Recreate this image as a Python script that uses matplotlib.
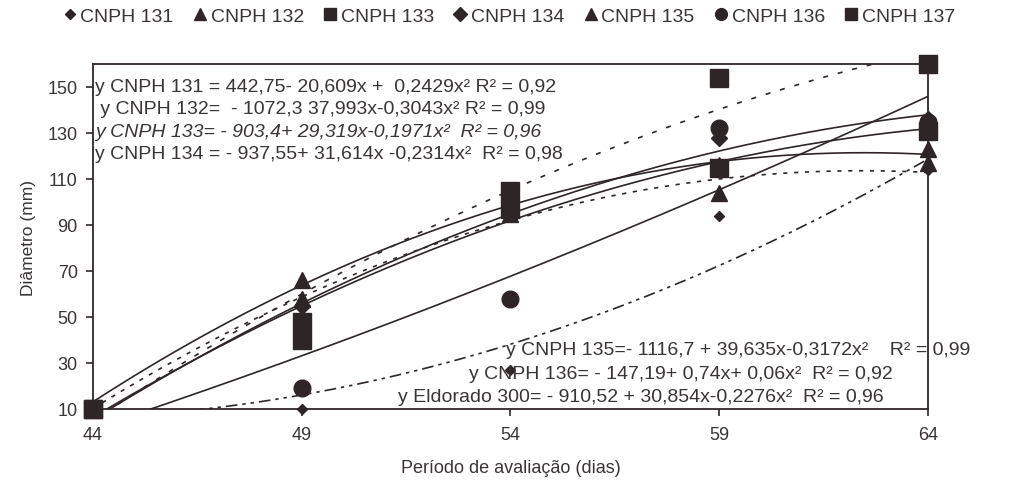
import matplotlib
matplotlib.use("Agg")
import matplotlib.pyplot as plt
from matplotlib.lines import Line2D
import numpy as np

plt.rcParams["font.family"] = "Liberation Sans"

INK = "#2e2626"
TXT = "#3a3535"

# evaluation days
days = [44, 49, 54, 59, 64]

cnph131 = [10, 10, 27, 94, 114]
cnph132 = [10, 58, 95, 104, 117]
cnph133 = [10, 40, 105, 154, 160]
cnph134 = [10, 55, 100, 128, 136]
cnph135 = [10, 66, 100, 116, 123]
cnph136 = [10, 19, 58, 132, 135]
cnph137 = [10, 48, 97, 115, 131]

# printed trendline coefficients (c0, c1, c2)
coef131 = [442.75, -20.609, 0.2429]
coef132 = [-1072.3, 37.993, -0.3043]
coef133 = [-903.4, 29.319, -0.1971]
coef134 = [-937.55, 31.614, -0.2314]
coef135 = [-1116.7, 39.635, -0.3172]
coef136 = [-147.19, 0.74, 0.06]
coef137 = [-910.52, 30.854, -0.2276]

series = [
    ("CNPH 131", cnph131, coef131, "D", 5, (0, (7, 3, 2, 3, 2, 3))),
    ("CNPH 132", cnph132, coef132, "^", 12, (0, (2.5, 4))),
    ("CNPH 133", cnph133, coef133, "s", 13, (0, (3, 6))),
    ("CNPH 134", cnph134, coef134, "D", 8, "-"),
    ("CNPH 135", cnph135, coef135, "^", 12, "-"),
    ("CNPH 136", cnph136, coef136, "o", 12, "-"),
    ("CNPH 137", cnph137, coef137, "s", 13, "-"),
]

fig = plt.figure(figsize=(10.18, 4.85), dpi=100)
ax = fig.add_axes([93 / 1018, 1 - 410 / 485, (928 - 93) / 1018, (410 - 65) / 485])

# trend lines from the printed regression equations
xs = np.linspace(days[0], days[-1], 200)
for name, vals, coef, mk, ms, ls in series:
    ax.plot(xs, np.polyval(coef[::-1], xs), color=INK, lw=1.2, ls=ls, zorder=2)

for name, vals, coef, mk, ms, ls in series:
    ax.plot(days, vals, ls="none", marker=mk, ms=ms, color=INK, mec=INK,
            clip_on=False, zorder=3)

ax.set_xlim(44, 64)
ax.set_ylim(10, 160)
ax.set_xticks(days)
ax.set_yticks(np.arange(10, 151, 20))
for s in ax.spines.values():
    s.set_color(INK)
    s.set_linewidth(1.3)
ax.tick_params(direction="out", length=5, width=1.2, color=INK,
               labelsize=13, labelcolor=TXT)
ax.tick_params(axis="x", pad=7)
ax.tick_params(axis="y", pad=6)

ax.set_xlabel("Período de avaliação (dias)", fontsize=13, color=TXT, labelpad=12)
ax.set_ylabel("Diâmetro (mm)", fontsize=12.5, color=TXT, labelpad=8)

# regression equations
eq_top = [
    ("y CNPH 131 = 442,75- 20,609x +  0,2429x² R² = 0,92", 150.4, "normal"),
    (" y CNPH 132=  - 1072,3 37,993x-0,3043x² R² = 0,99", 140.6, "normal"),
    ("y CNPH 133= - 903,4+ 29,319x-0,1971x²  R² = 0,96", 130.8, "italic"),
    ("y CNPH 134 = - 937,55+ 31,614x -0,2314x²  R² = 0,98", 121.0, "normal"),
]
for txt, yv, st in eq_top:
    ax.text(44.05, yv, txt, fontsize=14, color=TXT, style=st,
            va="center", ha="left", zorder=4)

eq_bottom = [
    ("y CNPH 135=- 1116,7 + 39,635x-0,3172x²    R² = 0,99", 53.9, 35.8),
    ("y CNPH 136= - 147,19+ 0,74x+ 0,06x²  R² = 0,92", 53.0, 25.6),
    ("y Eldorado 300= - 910,52 + 30,854x-0,2276x²  R² = 0,96", 51.3, 15.6),
]
for txt, xv, yv in eq_bottom:
    ax.text(xv, yv, txt, fontsize=14, color=TXT,
            va="center", ha="left", zorder=4, clip_on=False)

handles = [Line2D([], [], ls="none", marker=mk, color=INK,
                  ms=5 if i == 0 else (7 if mk == "D" else 8.5))
           for i, (name, vals, coef, mk, ms, ls) in enumerate(series)]
labels = [s[0] for s in series]
fig.legend(handles, labels, loc="center", bbox_to_anchor=(0.5, 1 - 17 / 485),
           ncol=7, frameon=False, handlelength=0.7, handletextpad=0.2,
           columnspacing=1.0, fontsize=14, labelcolor=TXT, borderpad=0)

fig.savefig("out.png", dpi=100)
